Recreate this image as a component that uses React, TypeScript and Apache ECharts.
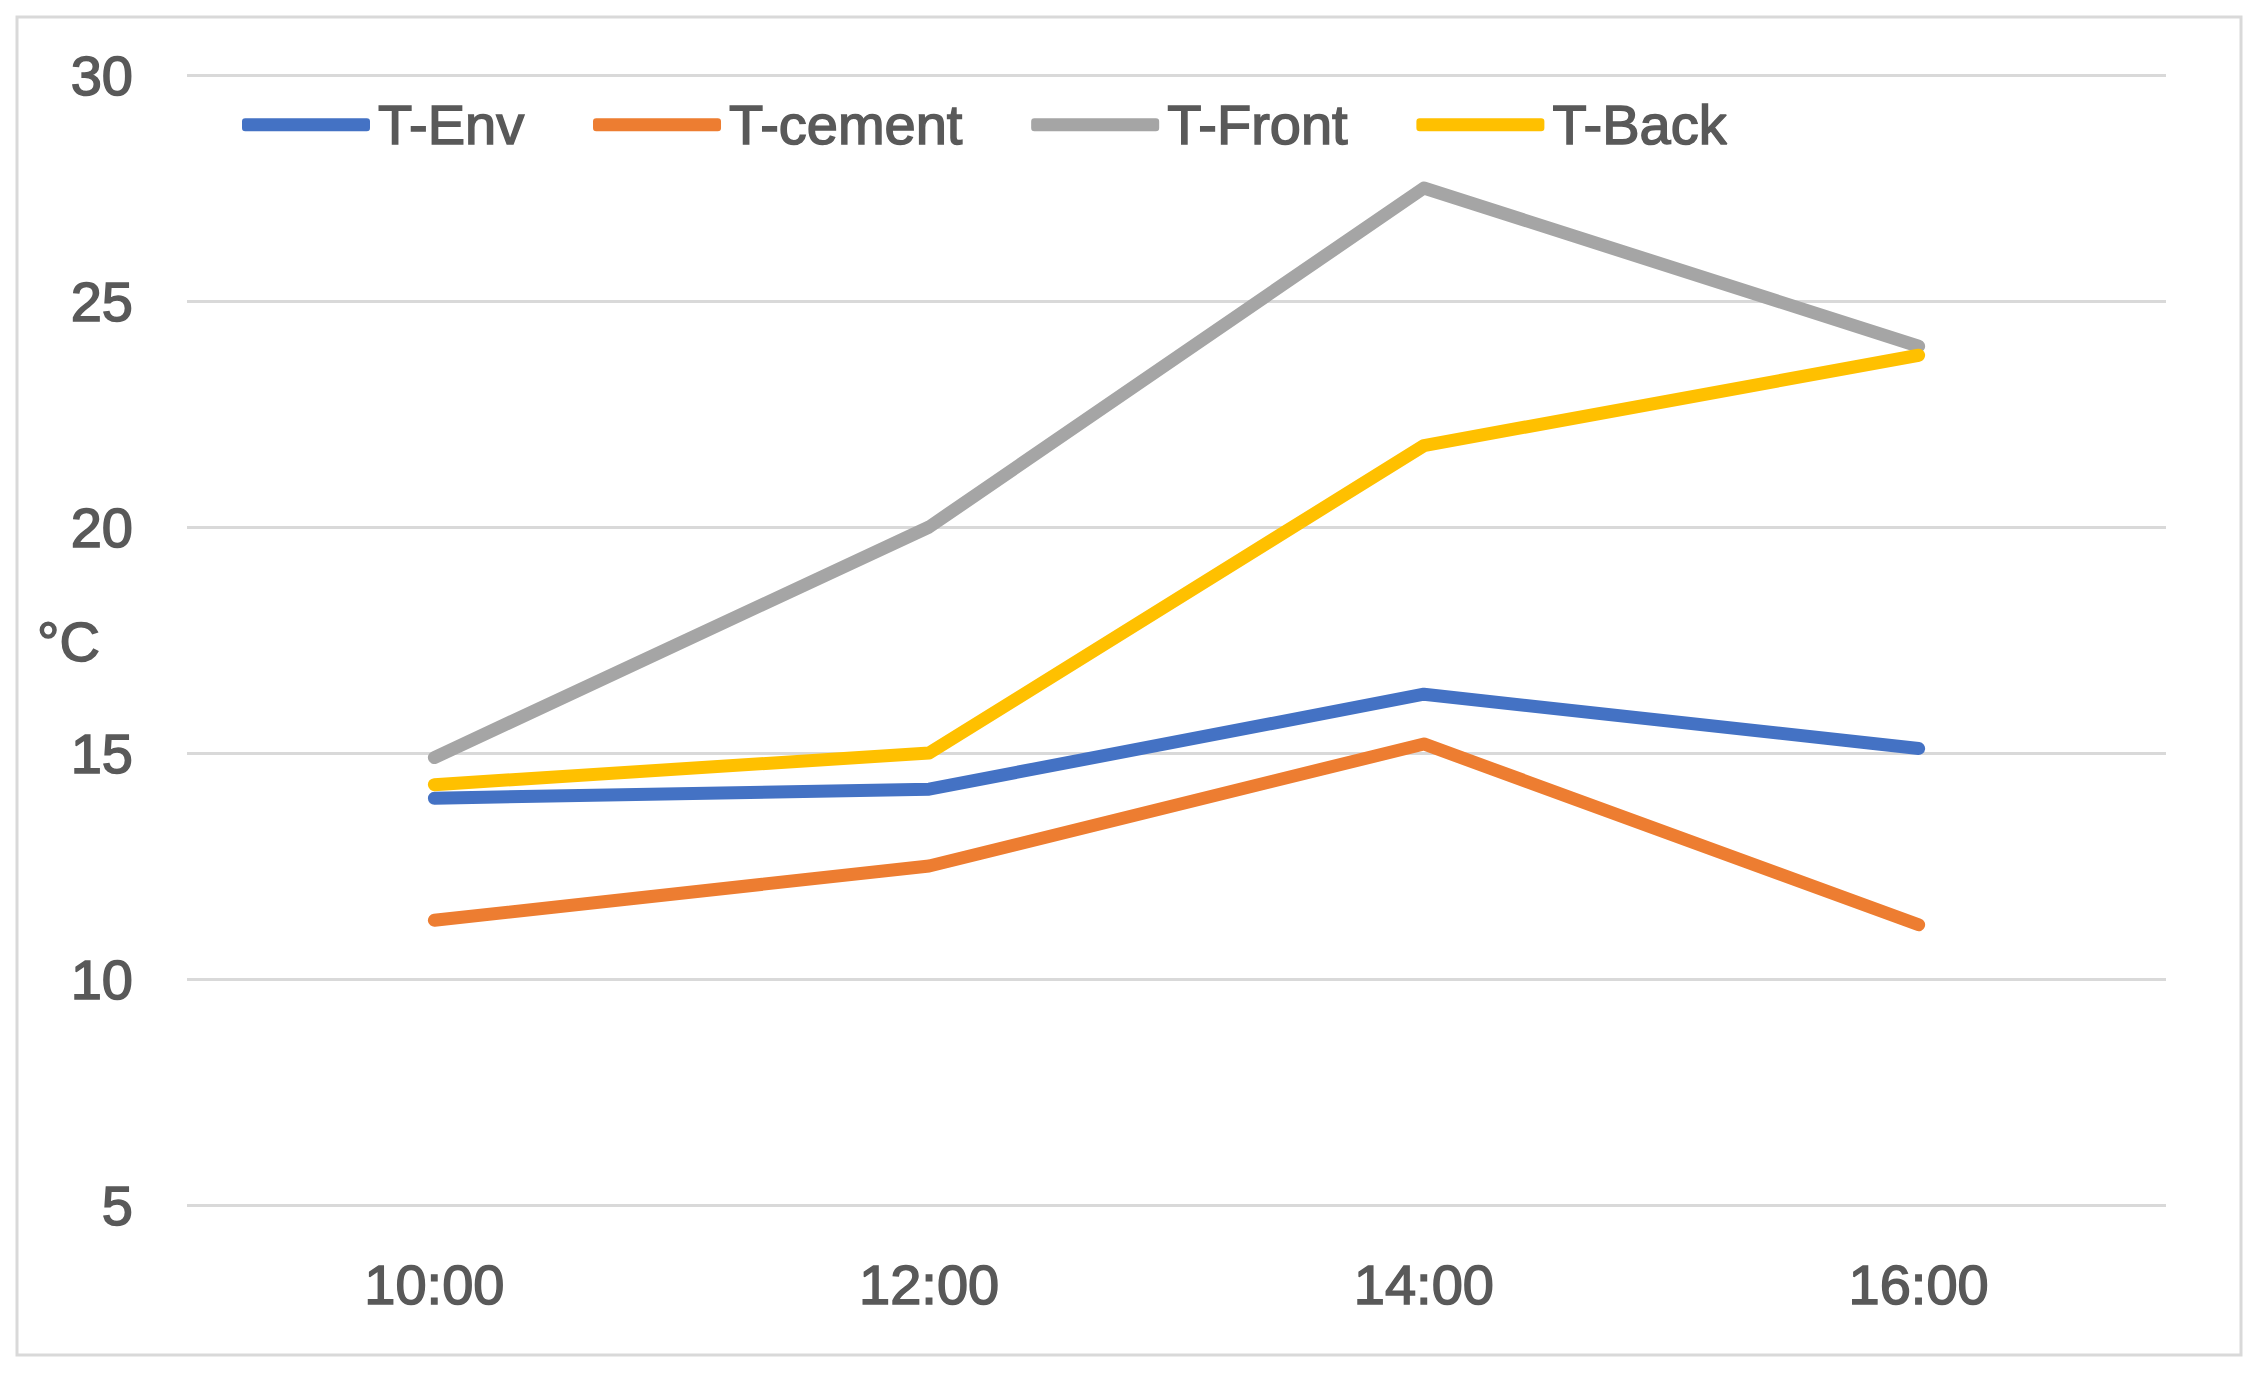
import React, { useEffect, useRef } from "react";
import * as echarts from "echarts";

const categories = ["10:00", "12:00", "14:00", "16:00"];
const tEnv = [14.0, 14.2, 16.3, 15.1];
const tCement = [11.3, 12.5, 15.2, 11.2];
const tFront = [14.9, 20.0, 27.5, 24.0];
const tBack = [14.3, 15.0, 21.8, 23.8];
const seriesNames = ["T-Env", "T-cement", "T-Front", "T-Back"];
const seriesColors = ["#4472C4", "#ED7D31", "#A5A5A5", "#FFC000"];
const yMin = 5;
const yMax = 30;
const yInterval = 5;
const unitLabel = "°C";

const FONT = "'Liberation Sans', Arial, sans-serif";
const TEXT_COLOR = "#595959";
const textBase = {
  fontFamily: FONT,
  fontSize: 56,
  color: TEXT_COLOR,
  textBorderColor: TEXT_COLOR,
  textBorderWidth: 1.5,
};

export default function App() {
  const ref = useRef<HTMLDivElement>(null);
  useEffect(() => {
    if (!ref.current) return;
    const chart = echarts.init(ref.current, undefined, { renderer: "svg" });
    const values = [tEnv, tCement, tFront, tBack];
    chart.setOption({
      animation: false,
      backgroundColor: "#ffffff",
      grid: { left: 187, right: 94, top: 75, bottom: 172, containLabel: false },
      legend: {
        left: 237,
        top: 91,
        icon: "roundRect",
        itemWidth: 128,
        itemHeight: 13,
        itemGap: 68,
        textStyle: { ...textBase, padding: [0, 0, 0, 3] },
        data: seriesNames,
      },
      xAxis: {
        type: "category",
        data: categories,
        boundaryGap: true,
        axisLine: { show: false },
        axisTick: { show: false },
        axisLabel: { ...textBase, margin: 51 },
        splitLine: { show: false },
      },
      yAxis: {
        type: "value",
        min: yMin,
        max: yMax,
        interval: yInterval,
        axisLine: { show: false },
        axisTick: { show: false },
        axisLabel: { ...textBase, margin: 54 },
        splitLine: { show: true, lineStyle: { color: "#D9D9D9", width: 3 } },
      },
      graphic: [
        {
          type: "rect",
          shape: { x: 17, y: 17, width: 2224, height: 1338 },
          style: { fill: "none", stroke: "#D9D9D9", lineWidth: 3 },
          silent: true,
          z: -1,
        },
        {
          type: "text",
          x: 37,
          y: 641,
          style: {
            text: unitLabel,
            fontFamily: FONT,
            fontSize: 56,
            fill: TEXT_COLOR,
            stroke: TEXT_COLOR,
            lineWidth: 1.5,
            verticalAlign: "middle",
          },
        },
      ],
      series: seriesNames.map((name, i) => ({
        name,
        type: "line",
        data: values[i],
        showSymbol: false,
        symbol: "none",
        color: seriesColors[i],
        lineStyle: { color: seriesColors[i], width: 13, cap: "round", join: "round" },
        itemStyle: { color: seriesColors[i] },
      })),
    });
    return () => chart.dispose();
  }, []);
  return (
    <div
      ref={ref}
      style={{ position: "fixed", left: 0, top: 0, width: 2260, height: 1377 }}
    />
  );
}
